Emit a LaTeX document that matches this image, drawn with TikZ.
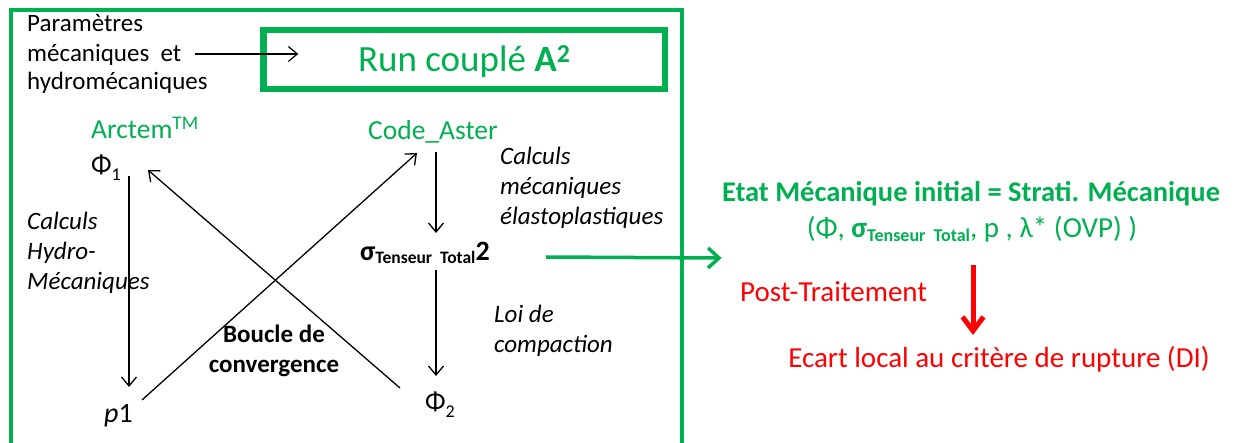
\documentclass[tikz,border=0pt]{standalone}
\usepackage{fontspec}
\setmainfont{Carlito}
\usetikzlibrary{calc,arrows.meta}
\definecolor{grn}{RGB}{0,176,80}
\definecolor{rd}{RGB}{255,0,0}
\newcommand{\fs}[1]{\fontsize{#1}{#1}\selectfont}
\tikzset{
  txt/.style={inner sep=0pt,font=\fs{25},align=left},
  itx/.style={txt,font=\fs{25}\itshape},
  gtxt/.style={txt,text=grn,font=\fs{27.5}},
  arr/.style={-{Straight Barb[length=9pt,width=15pt]},line width=1.3pt},
}
\begin{document}
\begin{tikzpicture}[x=1pt,y=-1pt]
\useasboundingbox (0,0) rectangle (1235,443);
% outer box
\draw[grn,line width=3.5pt] (11,460) -- (11,10) -- (682,10) -- (682,460);
% run box
\node[draw=grn,line width=6.5pt,minimum width=401.5pt,minimum height=59pt,inner sep=0pt,
      text height=24pt,text depth=0pt,text=grn,font=\fs{37}] (run) at (464.25,59.5)
      {Run couplé \textbf{A\textsuperscript{2}}};
% parameters
\node[txt,anchor=base west] (par1) at (27,32) {Paramètres};
\node[txt,anchor=base west] (par2) at (27,62) {mécaniques\ \ et};
\node[txt,anchor=base west] (par3) at (27,90) {hydromécaniques};
\draw[arr,line width=1.2pt] ($(par2.base east)+(14,-8)$) -- ($(run.west)+(38,-5.5)$);
% left column
\node[gtxt,anchor=base west] (arctem) at (91,139) {Arctem\textsuperscript{TM}};
\node[txt,anchor=base west,font=\fs{27}] (phi1) at (91,174) {Φ\raisebox{-7pt}{\fs{18}1}};
\node[txt,anchor=base west,font=\fs{28}] (p1) at (104,423) {\textit{p}1};
\node[itx,anchor=base west] (calcA1) at (27,230) {Calculs};
\node[itx,anchor=base west] (calcA2) at (27,260) {Hydro-};
\node[itx,anchor=base west] (calcA3) at (27,290) {Mécaniques};
\node[txt,anchor=base,font=\fs{25}\bfseries] (boucle1) at (274,343) {Boucle de};
\node[txt,anchor=base,font=\fs{25}\bfseries] (boucle2) at (274,373) {convergence};
% right column
\node[gtxt,anchor=base west] (code) at (368,140) {Code\_Aster};
\node[txt,anchor=base west,font=\fs{28}\bfseries] (sigma) at (360,261)
  {σ\raisebox{-3pt}{\fs{17.5}Tenseur\ \ Total}2};
\node[txt,anchor=base west,font=\fs{27}] (phi2) at (425,411) {Φ\raisebox{-7pt}{\fs{18}2}};
\node[itx,anchor=base west] (calcB1) at (500,165) {Calculs};
\node[itx,anchor=base west] (calcB2) at (500,195) {mécaniques};
\node[itx,anchor=base west] (calcB3) at (500,225) {élastoplastiques};
\node[itx,anchor=base west] (loi1) at (494,323) {Loi de};
\node[itx,anchor=base west] (loi2) at (494,353) {compaction};
% arrows
\draw[arr] ($(phi1.base west)+(38,2)$) -- ($(p1.base west)+(25,-36)$);
\draw[arr] ($(code.base west)+(68,12)$) -- ($(sigma.base west)+(76,-28)$);
\draw[arr] ($(sigma.base west)+(76,9)$) -- ($(phi2.base west)+(11,-35)$);
\draw[arr] ($(p1.base west)+(38,-23)$) -- ($(code.base west)+(49,13)$);
\draw[arr] ($(phi2.base west)+(-25,-23)$) -- ($(phi1.base west)+(57,-4)$);
% right part
\node[txt,anchor=base,text=grn,font=\fs{28.5}\bfseries] (etat) at (971,202) {Etat Mécanique initial = Strati. Mécanique};
\node[txt,anchor=base,text=grn,font=\fs{29}] (param) at (972,238)
  {(Φ, \textbf{σ\raisebox{-4pt}{\fs{18}Tenseur\ \ Total}}, p , λ* (OVP) )};
\draw[grn,-{Straight Barb[length=11pt,width=20pt]},line width=3.5pt] ($(sigma.base east)+(56,-4)$) -- ($(param.base west)+(-85,20)$);
\node[txt,anchor=base west,text=rd,font=\fs{29}] (post) at (740,302) {Post-Traitement};
\node[txt,anchor=base,text=rd,font=\fs{29}] (ecart) at (999,368) {Ecart local au critère de rupture (DI)};
\draw[rd,-{Straight Barb[length=14pt,width=21pt]},line width=5pt] ($(param.base)+(1,27)$) -- ($(ecart.base)+(-26,-33)$);
\end{tikzpicture}
\end{document}
